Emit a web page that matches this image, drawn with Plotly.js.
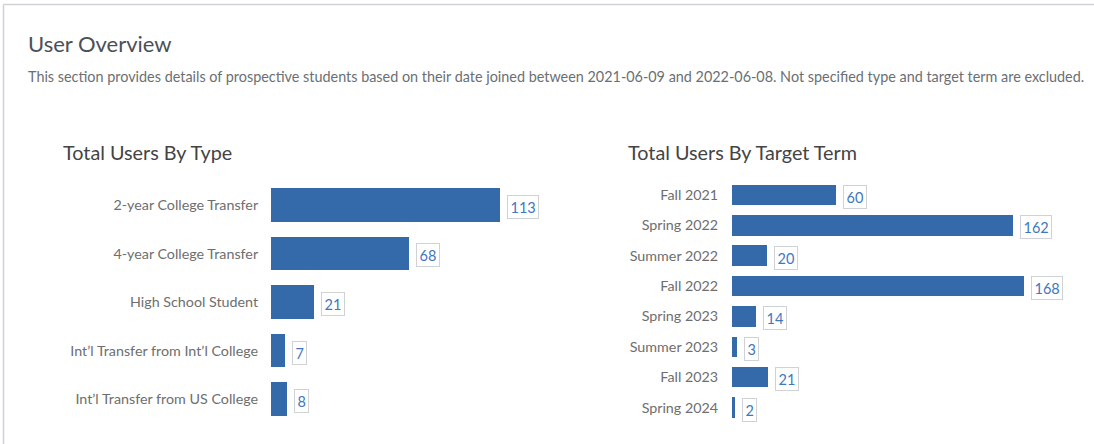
<!DOCTYPE html>
<html>
<head>
<meta charset="utf-8">
<script src="https://cdn.plot.ly/plotly-3.0.1.min.js"></script>
<style>
  html, body { margin: 0; padding: 0; background: #ffffff; }
  #chart { width: 1094px; height: 444px; }
</style>
</head>
<body>
<div id="chart"></div>
<script>
// ---- Data ----
const typeCategories = ["2-year College Transfer", "4-year College Transfer", "High School Student", "Int\u2019l Transfer from Int\u2019l College", "Int\u2019l Transfer from US College"];
const typeValues = [113, 68, 21, 7, 8];

const termCategories = ["Fall 2021", "Spring 2022", "Summer 2022", "Fall 2022", "Spring 2023", "Summer 2023", "Fall 2023", "Spring 2024"];
const termValues = [60, 162, 20, 168, 14, 3, 21, 2];

const pageTitle = "User Overview";
const pageSubtitle = "This section provides details of prospective students based on their date joined between 2021-06-09 and 2022-06-08. Not specified type and target term are excluded.";
const leftTitle = "Total Users By Type";
const rightTitle = "Total Users By Target Term";

// ---- Layout helpers ----
const W = 1094, H = 444;
const px = v => v / W;
const py = v => 1 - v / H;
const FONT = "Lato, 'Open Sans', sans-serif";
const BAR = "#3469aa";

const traces = [
  {
    type: "bar", orientation: "h",
    x: typeValues, y: typeCategories,
    xaxis: "x", yaxis: "y",
    marker: { color: BAR },
    width: 0.70,
    hoverinfo: "none"
  },
  {
    type: "bar", orientation: "h",
    x: termValues, y: termCategories,
    xaxis: "x2", yaxis: "y2",
    marker: { color: BAR },
    width: 0.675,
    hoverinfo: "none"
  }
];

function valueLabels(vals, cats, xref, yref) {
  return vals.map((v, i) => ({
    x: v, y: cats[i], xref: xref, yref: yref,
    text: String(v), showarrow: false,
    xanchor: "left", yanchor: "middle",
    xshift: 7, yshift: -2,
    font: { family: FONT, size: 14.5, color: "#3f77c0" },
    bgcolor: "#ffffff", bordercolor: "#cfd3d8", borderwidth: 1, borderpad: 2.5
  }));
}

const annotations = [
  { text: pageTitle, xref: "paper", yref: "paper", x: px(26), y: py(44), xanchor: "left", yanchor: "middle",
    showarrow: false, font: { family: FONT, size: 22, color: "#4b5057" } },
  { text: pageSubtitle, xref: "paper", yref: "paper", x: px(26), y: py(76), xanchor: "left", yanchor: "middle",
    showarrow: false, font: { family: FONT, size: 14.4, color: "#6b6f73" } },
  { text: leftTitle, xref: "paper", yref: "paper", x: px(61), y: py(152), xanchor: "left", yanchor: "middle",
    showarrow: false, font: { family: FONT, size: 19.8, color: "#444444" } },
  { text: rightTitle, xref: "paper", yref: "paper", x: px(626), y: py(152), xanchor: "left", yanchor: "middle",
    showarrow: false, font: { family: FONT, size: 19.8, color: "#444444" } }
].concat(valueLabels(typeValues, typeCategories, "x", "y"))
 .concat(valueLabels(termValues, termCategories, "x2", "y2"));

const layout = {
  width: W, height: H,
  margin: { l: 0, r: 0, t: 0, b: 0 },
  paper_bgcolor: "#ffffff", plot_bgcolor: "rgba(0,0,0,0)",
  showlegend: false,
  bargap: 0,
  xaxis: { domain: [px(271), px(271 + 140 * 2.027)], range: [0, 140], visible: false, fixedrange: true },
  yaxis: { domain: [py(423.25), py(180.75)], anchor: "x", type: "category", autorange: "reversed",
    showgrid: false, zeroline: false, showline: false, ticks: "outside", ticklen: 9, tickcolor: "rgba(0,0,0,0)",
    tickfont: { family: FONT, size: 14.3, color: "#6e6e6e" }, fixedrange: true },
  xaxis2: { domain: [px(732), px(732 + 200 * 1.737)], range: [0, 200], visible: false, fixedrange: true, anchor: "y2" },
  yaxis2: { domain: [py(422.7), py(179.8)], anchor: "x2", type: "category", autorange: "reversed",
    showgrid: false, zeroline: false, showline: false, ticks: "outside", ticklen: 10, tickcolor: "rgba(0,0,0,0)",
    tickfont: { family: FONT, size: 14.3, color: "#6e6e6e" }, fixedrange: true },
  annotations: annotations,
  shapes: [
    { type: "line", xref: "paper", yref: "paper", x0: px(3.5), x1: 1, y0: py(4.5), y1: py(4.5),
      line: { color: "#cfd2d5", width: 1.5 } },
    { type: "line", xref: "paper", yref: "paper", x0: px(3.5), x1: px(3.5), y0: py(4.5), y1: 0,
      line: { color: "#cfd2d5", width: 1.5 } }
  ]
};

Plotly.newPlot("chart", traces, layout, { displayModeBar: false, staticPlot: true });
</script>
</body>
</html>
